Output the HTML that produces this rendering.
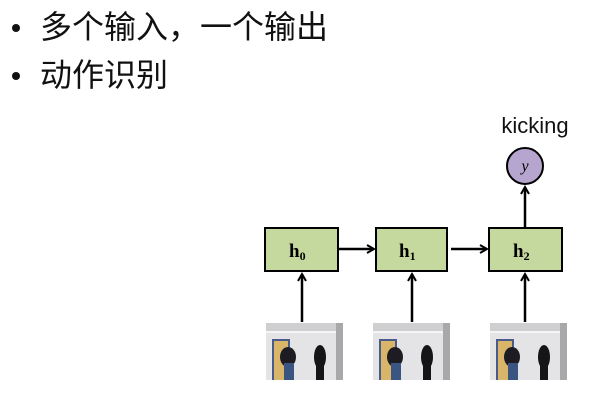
<!DOCTYPE html>
<html><head><meta charset="utf-8"><style>
html,body{margin:0;padding:0;background:#fff;width:601px;height:402px;overflow:hidden}
.t{position:absolute;left:40px;font-family:"Liberation Sans","Noto Sans CJK SC",sans-serif;font-size:32px;color:#111;line-height:1}
.b{position:absolute;left:12px;width:8px;height:8px;border-radius:50%;background:#111}
</style></head><body>
<div class="b" style="top:24px"></div><div class="t" style="top:11px">多个输入，一个输出</div>
<div class="b" style="top:72px"></div><div class="t" style="top:59px">动作识别</div>
<svg width="601" height="402" style="position:absolute;left:0;top:0">
<defs>
<marker id="a" markerWidth="10" markerHeight="10" refX="8" refY="5" orient="auto" markerUnits="userSpaceOnUse"><path d="M1,1 L8,5 L1,9" fill="none" stroke="#000" stroke-width="2"/></marker>
<g id="img">
<rect x="0" y="0" width="77" height="57" fill="#e4e4e6"/>
<rect x="0" y="0" width="77" height="8" fill="#cfcfd2"/>
<rect x="0" y="8" width="77" height="2" fill="#f4f4f4"/>
<rect x="6" y="16" width="18" height="41" fill="#4a5a8a"/>
<rect x="8" y="18" width="14" height="39" fill="#d9b56a"/>
<rect x="70" y="0" width="7" height="57" fill="#a8a8ab"/>
<ellipse cx="22" cy="34" rx="8" ry="10" fill="#1c1c22"/>
<rect x="18" y="40" width="10" height="17" fill="#3b5582"/>
<ellipse cx="54" cy="34" rx="6" ry="12" fill="#151518"/>
<rect x="50" y="40" width="8" height="17" fill="#151518"/>
</g>
</defs>
<g stroke="#000" stroke-width="2.5" fill="none">
<line x1="338" y1="249" x2="374" y2="249" marker-end="url(#a)"/>
<line x1="451" y1="249" x2="487" y2="249" marker-end="url(#a)"/>
<line x1="302" y1="322" x2="302" y2="274" marker-end="url(#a)"/>
<line x1="412" y1="322" x2="412" y2="274" marker-end="url(#a)"/>
<line x1="525" y1="322" x2="525" y2="274" marker-end="url(#a)"/>
<line x1="525" y1="228" x2="525" y2="187" marker-end="url(#a)"/>
</g>
<g fill="#c5d89d" stroke="#000" stroke-width="2">
<rect x="265" y="228" width="73" height="43"/>
<rect x="376" y="228" width="71" height="43"/>
<rect x="489" y="228" width="73" height="43"/>
</g>
<circle cx="525" cy="166" r="18" fill="#b6a6cf" stroke="#000" stroke-width="2"/>
<g font-family="Liberation Serif,serif" font-weight="bold" font-size="19">
<text x="289" y="257">h<tspan font-size="12" dy="3">0</tspan></text>
<text x="399" y="257">h<tspan font-size="12" dy="3">1</tspan></text>
<text x="513" y="257">h<tspan font-size="12" dy="3">2</tspan></text>
</g>
<text x="525" y="171" font-family="Liberation Serif,serif" font-style="italic" font-size="16" text-anchor="middle">y</text>
<text x="535" y="133" font-family="Liberation Sans,sans-serif" font-size="22" text-anchor="middle" fill="#111">kicking</text>
<use href="#img" x="266" y="323"/>
<use href="#img" x="373" y="323"/>
<use href="#img" x="490" y="323"/>
</svg>
</body></html>
